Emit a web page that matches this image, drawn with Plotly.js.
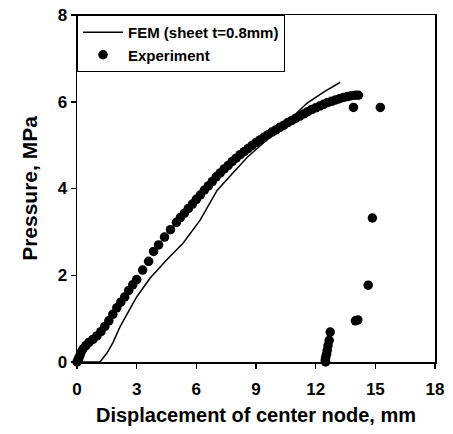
<!DOCTYPE html>
<html><head><meta charset="utf-8">
<script src="https://cdn.plot.ly/plotly-3.0.1.min.js"></script>
<style>html,body{margin:0;padding:0;background:#fff}#chart{width:453px;height:434px}</style>
</head><body><div id="chart"></div>
<script>
// FEM curve (sheet t=0.8mm)
const femX = [0, 1.15, 1.5, 1.8, 2.16, 3.0, 3.67, 4.5, 5.33, 6.19, 7.05, 7.85, 8.56, 9.5, 10.5, 11.57, 12.5, 13.24];
const femY = [0, 0, 0.2, 0.44, 0.81, 1.5, 1.93, 2.35, 2.74, 3.27, 3.96, 4.35, 4.72, 5.1, 5.5, 5.97, 6.25, 6.45];

// Experiment points
const expX = [0, 0.05, 0.1, 0.15, 0.2, 0.3, 0.45, 0.6, 0.8, 1.0, 1.2, 1.4, 1.6, 1.8, 2.0, 2.2, 2.4, 2.6, 2.8, 3.0,
  3.3, 3.6, 3.85, 4.1, 4.4, 4.7, 5.0, 5.2, 5.4, 5.6, 5.8, 6.0, 6.2, 6.4, 6.6, 6.8, 7.0, 7.2, 7.4, 7.6, 7.8, 8.0,
  8.2, 8.4, 8.6, 8.8, 9.0, 9.2, 9.4, 9.6, 9.8, 10.0, 10.2, 10.4, 10.6, 10.8, 11.0, 11.2, 11.4, 11.6, 11.8, 12.0,
  12.2, 12.4, 12.6, 12.8, 13.0, 13.2, 13.4, 13.6, 13.8, 14.0, 14.15,
  13.9, 15.25, 14.85, 14.64, 14.0, 14.12, 12.73, 12.68, 12.62, 12.58, 12.55, 12.5, 12.48, 12.5];
const expY = [0, 0.05, 0.1, 0.15, 0.22, 0.3, 0.38, 0.45, 0.52, 0.6, 0.7, 0.82, 0.95, 1.1, 1.25, 1.38, 1.5, 1.65, 1.78, 1.9,
  2.12, 2.32, 2.55, 2.7, 2.88, 3.05, 3.22, 3.33, 3.43, 3.54, 3.64, 3.75, 3.85, 3.96, 4.06, 4.16, 4.27, 4.36, 4.45, 4.53, 4.62, 4.7,
  4.78, 4.85, 4.92, 4.99, 5.06, 5.12, 5.18, 5.24, 5.3, 5.35, 5.41, 5.46, 5.52, 5.57, 5.62, 5.67, 5.72, 5.77, 5.82, 5.86,
  5.9, 5.94, 5.98, 6.01, 6.04, 6.07, 6.1, 6.12, 6.14, 6.15, 6.15,
  5.87, 5.87, 3.32, 1.77, 0.95, 0.97, 0.69, 0.5, 0.38, 0.27, 0.18, 0.1, 0.04, 0.0];

const xTicks = [0, 3, 6, 9, 12, 15, 18];
const yTicks = [0, 2, 4, 6, 8];

const FONT = 'Liberation Sans, Arial, sans-serif';
const traces = [
  {x: femX, y: femY, mode: 'lines', name: 'FEM (sheet t=0.8mm)', line: {color: '#000', width: 1.5}},
  {x: expX, y: expY, mode: 'markers', name: 'Experiment', cliponaxis: false,
   marker: {color: '#000', size: 9.5}}
];
const axisCommon = {
  showline: true, mirror: true, linecolor: '#000', linewidth: 1.5,
  ticks: 'outside', ticklen: 5, tickwidth: 1.5, tickcolor: '#000',
  showgrid: false, zeroline: false,
  tickfont: {family: FONT, size: 17, color: '#000', weight: 'bold'}
};
const layout = {
  width: 453, height: 434,
  margin: {l: 77, r: 18, t: 15, b: 72},
  paper_bgcolor: '#fff', plot_bgcolor: '#fff',
  showlegend: true,
  legend: {x: 0, y: 1, xanchor: 'left', yanchor: 'top', bgcolor: '#fff', bordercolor: '#000', borderwidth: 1,
    itemwidth: 40, tracegroupgap: 0,
    font: {family: FONT, size: 15, color: '#000', weight: 'bold'}},
  xaxis: Object.assign({}, axisCommon, {range: [0, 18], tickvals: xTicks, ticktext: xTicks.map(String),
    ticklabelstandoff: 6,
    title: {text: 'Displacement of center node, mm', font: {family: FONT, size: 20, color: '#000', weight: 'bold'}, standoff: 10}}),
  yaxis: Object.assign({}, axisCommon, {range: [0, 8], tickvals: yTicks, ticktext: yTicks.map(String),
    title: {text: 'Pressure, MPa', font: {family: FONT, size: 21, color: '#000', weight: 'bold'}, standoff: 14}})
};
Plotly.newPlot('chart', traces, layout, {staticPlot: true, displayModeBar: false});
</script>
</body></html>
